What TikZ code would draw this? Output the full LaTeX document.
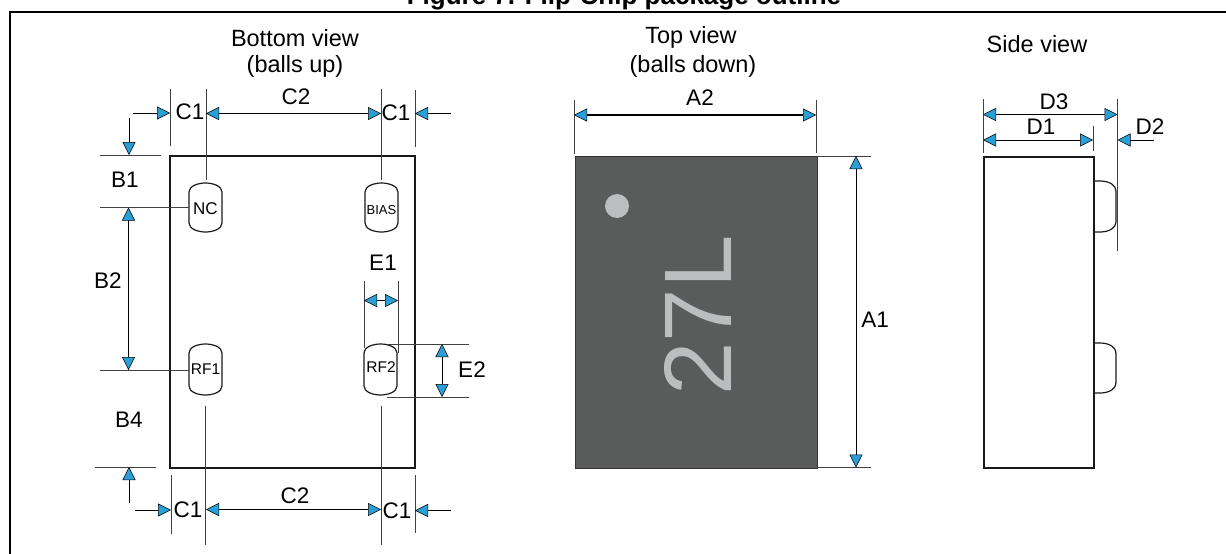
\documentclass[tikz,border=0pt]{standalone}
\usepackage{fontspec}
\setmainfont{Liberation Sans}
\usetikzlibrary{arrows.meta}
\definecolor{tipblue}{HTML}{2A9FD6}
\definecolor{chipgrey}{HTML}{5A5C5C}
\definecolor{markgrey}{HTML}{BCBDBF}
\begin{document}
\begin{tikzpicture}[x=1pt,y=-1pt,
	dim/.style={line width=1pt,{Triangle[length=13pt,width=13pt,fill=tipblue,line width=0.5pt]}-{Triangle[length=13pt,width=13pt,fill=tipblue,line width=0.5pt]}},
	lead/.style={line width=1pt,-{Triangle[length=13pt,width=13pt,fill=tipblue,line width=0.5pt]}},
	ext/.style={line width=0.8pt,black!75},
	body/.style={line width=1.7pt,draw=black!90},
	ballline/.style={line width=1.2pt,black!90},
	lab/.style={font=\fontsize{22.5}{26}\selectfont,inner sep=0pt},
	head/.style={font=\fontsize{23.5}{26}\selectfont,inner sep=0pt},
	balltext/.style={inner sep=0pt,font=\fontsize{#1}{#1}\selectfont}]
	\useasboundingbox (0,0) rectangle (1226,554);
	\fill[white] (0,0) rectangle (1226,554);
	% frame and title
	\node[inner sep=0pt,anchor=base,font=\bfseries\fontsize{26}{30}\selectfont] (title) at (624,5) {Figure 7. Flip-Chip package outline};
	\draw[line width=2pt] (10,554) -- (10,12) -- (1226,12);
	\node[head] (bottomone) at (295,38) {Bottom view};
	\node[head] (bottomtwo) at (295,66) {(balls up)};
	\node[head] (topone) at (691,37) {Top view};
	\node[head] (toptwo) at (693,66) {(balls down)};
	\node[head] (sideone) at (1037,44) {Side view};
	% bottom view
	\draw[body] (170,156) rectangle (415,468);
	\draw[ballline] (189,192) .. controls (189,186) and (198,183) .. (205.5,183) .. controls (213,183) and (222,186) .. (222,192) -- (222,223) .. controls (222,229) and (213,232) .. (205.5,232) .. controls (198,232) and (189,229) .. (189,223) -- cycle;
	\draw[ballline] (365,192) .. controls (365,186) and (374,183) .. (381.5,183) .. controls (389,183) and (398,186) .. (398,192) -- (398,223) .. controls (398,229) and (389,232) .. (381.5,232) .. controls (374,232) and (365,229) .. (365,223) -- cycle;
	\draw[ballline] (189,353) .. controls (189,347) and (198,344) .. (205.5,344) .. controls (213,344) and (222,347) .. (222,353) -- (222,386) .. controls (222,392) and (213,395) .. (205.5,395) .. controls (198,395) and (189,392) .. (189,386) -- cycle;
	\draw[ballline] (364,353) .. controls (364,347) and (373,344) .. (380.5,344) .. controls (388,344) and (397,347) .. (397,353) -- (397,386) .. controls (397,392) and (388,395) .. (380.5,395) .. controls (373,395) and (364,392) .. (364,386) -- cycle;
	\node[balltext=17] (nc) at (205.5,208.5) {NC};
	\node[balltext=13] (bias) at (381.5,210.5) {BIAS};
	\node[balltext=15.5] (rfone) at (205.5,369.5) {RF1};
	\node[balltext=15.5] (rftwo) at (381,367.5) {RF2};
	\draw[ext] (170,89) -- (170,146);
	\draw[ext] (206,89) -- (206,180);
	\draw[ext] (381,89) -- (381,180);
	\draw[ext] (415,90) -- (415,147);
	\draw[lead] (133,113) -- (170,113);
	\draw[dim] (206,113.5) -- (381,113.5);
	\draw[lead] (451,113.5) -- (415,113.5);
	\node[lab] (cone) at (190,112) {C1};
	\node[lab] (ctwo) at (296,97) {C2};
	\node[lab] (cthree) at (396,113) {C1};
	\draw[ext] (100,155) -- (161,155);
	\draw[ext] (100,207.5) -- (189,207.5);
	\draw[ext] (100,370) -- (189,370);
	\draw[ext] (95,467) -- (156,467);
	\draw[lead] (129,118) -- (129,155);
	\draw[dim] (128.5,207.5) -- (128.5,370);
	\draw[lead] (129,503) -- (129,467);
	\node[lab] (bone) at (125,180) {B1};
	\node[lab] (btwo) at (108,281) {B2};
	\node[lab] (bfour) at (129,420) {B4};
	\draw[ext] (364,281) -- (364,348);
	\draw[ext] (398,281) -- (398,353);
	\draw[dim] (364,300.5) -- (398,300.5);
	\node[lab] (eone) at (383,263) {E1};
	\draw[ext] (387,344) -- (469,344);
	\draw[ext] (387,397) -- (469,397);
	\draw[dim] (442,344) -- (442,397);
	\node[lab] (etwo) at (472,370) {E2};
	\draw[ext] (171,475) -- (171,534);
	\draw[ext] (205.5,406) -- (205.5,545);
	\draw[ext] (381,406) -- (381,545);
	\draw[ext] (415,475) -- (415,533);
	\draw[lead] (135,510) -- (171,510);
	\draw[dim] (206,509.5) -- (381,509.5);
	\draw[lead] (451,510.5) -- (415,510.5);
	\node[lab] (cfour) at (188,510) {C1};
	\node[lab] (cfive) at (295,496) {C2};
	\node[lab] (csix) at (397,511) {C1};
	% top view
	\draw[line width=1pt,fill=chipgrey,draw=black!80] (575,156) rectangle (817,468);
	\fill[markgrey] (617,206) circle (12);
	\node[inner sep=0pt,text=markgrey,rotate=90,font=\fontsize{96}{96}\selectfont] (mark) at (697.5,315.5) {27L};
	\draw[ext] (574,100) -- (574,154);
	\draw[ext] (816,100) -- (816,153);
	\draw[dim,line width=1.3pt] (574,115) -- (816,115);
	\node[lab] (atwo) at (700,98) {A2};
	\draw[ext] (817,156) -- (871,156);
	\draw[ext] (817,467.5) -- (871,467.5);
	\draw[dim] (856,156) -- (856,467.5);
	\node[lab] (aone) at (875,320) {A1};
	% side view
	\draw[body] (984,157) rectangle (1094,468);
	\draw[ballline] (1094,181) -- (1100,181) .. controls (1109,181) and (1116,185) .. (1116,191) -- (1116,222) .. controls (1116,228) and (1109,232) .. (1100,232) -- (1094,232);
	\draw[ballline] (1094,343) -- (1100,343) .. controls (1109,343) and (1116,347) .. (1116,353) -- (1116,383) .. controls (1116,389) and (1109,393) .. (1100,393) -- (1094,393);
	\draw[ext] (983,99) -- (983,153);
	\draw[ext] (1117.5,99) -- (1117.5,251);
	\draw[ext] (1093,126) -- (1093,151);
	\draw[dim] (983,114.5) -- (1117.5,114.5);
	\draw[dim] (983,140) -- (1093,140);
	\draw[lead] (1154,140) -- (1117.5,140);
	\node[lab] (dthree) at (1054,102) {D3};
	\node[lab] (done) at (1041,127) {D1};
	\node[lab] (dtwo) at (1150,127) {D2};
\end{tikzpicture}
\end{document}
